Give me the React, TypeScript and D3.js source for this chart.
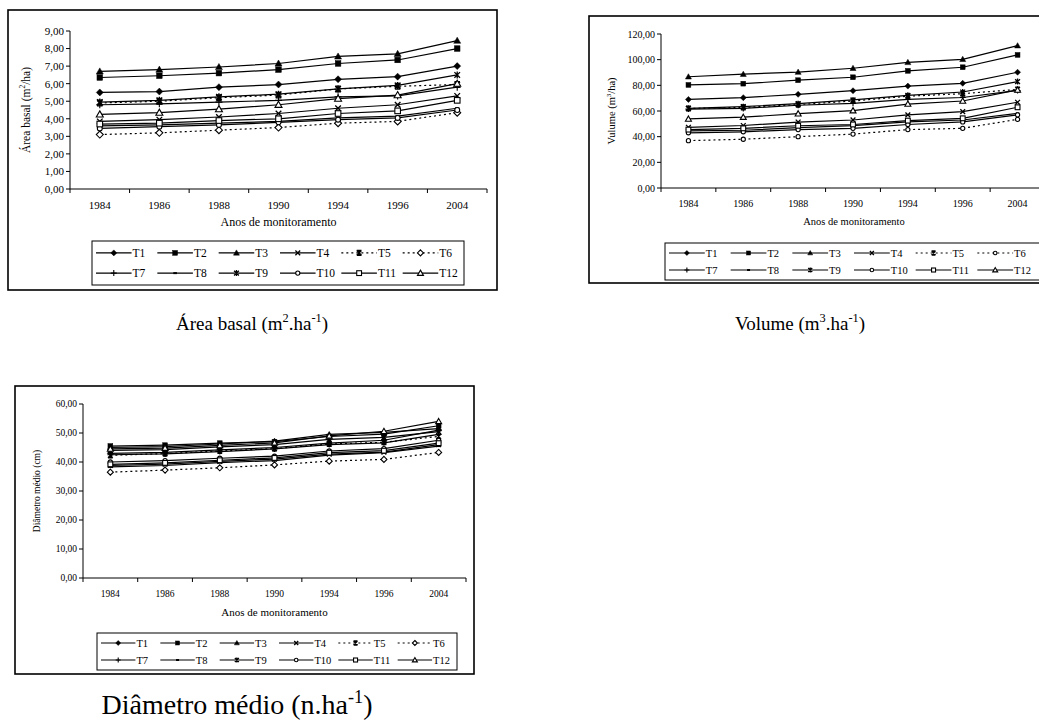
import { useEffect, useRef } from "react";
import * as d3 from "d3";

// categories
const years = ["1984", "1986", "1988", "1990", "1994", "1996", "2004"];
const seriesNames = ["T1", "T2", "T3", "T4", "T5", "T6", "T7", "T8", "T9", "T10", "T11", "T12"];
const markerTypes = ["diamond", "square", "triangle", "cross", "asteriskX", "diamondOpen", "plus", "dash", "asterisk", "circleOpen", "squareOpen", "triangleOpen"];
const dottedSeries = ["T5", "T6"];

// Área basal (m2/ha), rows T1..T12
const areaBasal = [
  [5.5, 5.55, 5.8, 5.95, 6.25, 6.4, 7.0],
  [6.35, 6.45, 6.6, 6.8, 7.15, 7.35, 8.0],
  [6.7, 6.8, 6.95, 7.15, 7.55, 7.7, 8.45],
  [3.85, 3.95, 4.1, 4.3, 4.6, 4.8, 5.3],
  [4.9, 5.0, 5.2, 5.35, 5.7, 5.85, 5.95],
  [3.1, 3.2, 3.35, 3.5, 3.75, 3.85, 4.35],
  [4.8, 4.85, 4.95, 5.05, 5.25, 5.3, 5.8],
  [3.6, 3.65, 3.75, 3.85, 4.05, 4.15, 4.6],
  [4.95, 5.05, 5.25, 5.4, 5.7, 5.9, 6.5],
  [3.45, 3.55, 3.65, 3.8, 3.95, 4.05, 4.5],
  [3.7, 3.75, 3.9, 4.0, 4.3, 4.45, 5.05],
  [4.25, 4.35, 4.55, 4.8, 5.15, 5.35, 6.0],
];

// Volume (m3/ha), rows T1..T12
const volume = [
  [69.0, 70.4, 73.0, 75.8, 79.4, 81.6, 90.2],
  [80.3, 81.3, 84.0, 86.3, 91.3, 94.1, 103.7],
  [86.7, 88.7, 90.3, 93.3, 97.9, 100.3, 110.9],
  [47.3, 48.7, 51.4, 53.0, 57.0, 59.5, 66.8],
  [62.0, 62.8, 65.0, 67.8, 71.5, 73.5, 76.8],
  [36.9, 38.0, 40.0, 42.0, 45.5, 46.5, 53.5],
  [61.5, 62.0, 64.5, 66.0, 69.0, 70.5, 76.0],
  [44.5, 45.0, 47.0, 48.6, 51.5, 53.0, 58.2],
  [62.0, 63.4, 65.7, 68.6, 72.2, 74.8, 82.9],
  [43.0, 43.8, 45.5, 46.5, 49.5, 51.5, 57.0],
  [45.5, 46.5, 48.5, 49.5, 52.5, 54.3, 62.9],
  [53.8, 55.2, 57.9, 60.3, 65.4, 67.8, 76.4],
];

// Diâmetro médio (cm), rows T1..T12
const diametro = [
  [43.0, 43.3, 44.2, 45.0, 46.5, 47.5, 51.0],
  [45.5, 45.8, 46.5, 47.0, 48.8, 49.6, 52.5],
  [45.0, 45.3, 46.2, 47.2, 49.5, 50.2, 51.5],
  [38.8, 39.3, 40.2, 41.0, 42.7, 43.4, 46.0],
  [42.3, 42.9, 43.8, 44.6, 46.2, 46.8, 48.8],
  [36.5, 37.2, 38.0, 39.0, 40.3, 40.9, 43.3],
  [42.5, 42.8, 43.6, 44.5, 46.0, 46.6, 49.5],
  [38.3, 38.8, 39.8, 40.5, 42.4, 43.2, 45.5],
  [44.0, 44.3, 45.2, 46.0, 47.8, 48.5, 50.5],
  [40.0, 40.5, 41.3, 42.0, 43.8, 44.6, 47.5],
  [39.2, 39.7, 40.6, 41.4, 43.2, 43.9, 46.5],
  [44.5, 44.8, 45.7, 46.6, 49.0, 50.6, 54.0],
];

type Part = { t: string; sup?: boolean };

interface Panel {
  values: number[][];
  yMax: number;
  yStep: number;
  frame: [number, number, number, number];
  plot: { left: number; right: number; top: number; bottom: number };
  yTitle: Part[];
  yTitleX: number;
  yTitleFont: number;
  tickFont: number;
  xTickY: number;
  xTitleY: number;
  xTitleFont: number;
  legend: [number, number, number, number];
  legendFont: number;
  markerSize: number;
  t6Marker: string;
  caption: Part[];
  captionX: number;
  captionY: number;
  captionFont: number;
}

const FONT = "'Liberation Serif', 'Times New Roman', serif";

const panels: Panel[] = [
  {
    values: areaBasal,
    yMax: 9,
    yStep: 1,
    frame: [8, 10, 489, 280],
    plot: { left: 70, right: 487, top: 31, bottom: 189 },
    yTitle: [{ t: "Área basal (m" }, { t: "2", sup: true }, { t: "/ha)" }],
    yTitleX: 30,
    yTitleFont: 11.5,
    tickFont: 11,
    xTickY: 209,
    xTitleY: 226,
    xTitleFont: 12,
    legend: [92, 241, 372, 44],
    legendFont: 11.5,
    markerSize: 7,
    t6Marker: "diamondOpen",
    caption: [{ t: "Área basal (m" }, { t: "2", sup: true }, { t: ".ha" }, { t: "-1", sup: true }, { t: ")" }],
    captionX: 252,
    captionY: 330,
    captionFont: 19,
  },
  {
    values: volume,
    yMax: 120,
    yStep: 20,
    frame: [589, 16, 470, 267],
    plot: { left: 661, right: 1045, top: 34, bottom: 188 },
    yTitle: [{ t: "Vulume (m" }, { t: "3", sup: true }, { t: "/ha)" }],
    yTitleX: 615,
    yTitleFont: 10.5,
    tickFont: 10,
    xTickY: 207,
    xTitleY: 225,
    xTitleFont: 10.5,
    legend: [665, 243, 386, 37],
    legendFont: 10.5,
    markerSize: 6,
    t6Marker: "circleOpen",
    caption: [{ t: "Volume (m" }, { t: "3", sup: true }, { t: ".ha" }, { t: "-1", sup: true }, { t: ")" }],
    captionX: 800,
    captionY: 330,
    captionFont: 19,
  },
  {
    values: diametro,
    yMax: 60,
    yStep: 10,
    frame: [15, 386, 459, 288],
    plot: { left: 83, right: 466, top: 404, bottom: 578 },
    yTitle: [{ t: "Diâmetro médio (cm)" }],
    yTitleX: 40,
    yTitleFont: 9.5,
    tickFont: 9.5,
    xTickY: 597,
    xTitleY: 616,
    xTitleFont: 11,
    legend: [97, 633, 360, 37],
    legendFont: 10.5,
    markerSize: 6,
    t6Marker: "diamondOpen",
    caption: [{ t: "Diâmetro médio (n.ha" }, { t: "-1", sup: true }, { t: ")" }],
    captionX: 237,
    captionY: 714,
    captionFont: 28,
  },
];

type G = d3.Selection<SVGGElement, unknown, null, undefined>;

function drawMarker(g: G, type: string, x: number, y: number, s: number) {
  const h = s / 2;
  const sw = 1.1;
  switch (type) {
    case "diamond":
    case "diamondOpen":
      g.append("path")
        .attr("d", `M${x},${y - h}L${x + h},${y}L${x},${y + h}L${x - h},${y}Z`)
        .attr("fill", type === "diamond" ? "#000" : "#fff")
        .attr("stroke", "#000")
        .attr("stroke-width", type === "diamond" ? 0.5 : sw);
      break;
    case "square":
    case "squareOpen":
      g.append("rect")
        .attr("x", x - h * 0.8)
        .attr("y", y - h * 0.8)
        .attr("width", h * 1.6)
        .attr("height", h * 1.6)
        .attr("fill", type === "square" ? "#000" : "#fff")
        .attr("stroke", "#000")
        .attr("stroke-width", type === "square" ? 0.5 : sw);
      break;
    case "triangle":
    case "triangleOpen":
      g.append("path")
        .attr("d", `M${x},${y - h}L${x + h},${y + h * 0.75}L${x - h},${y + h * 0.75}Z`)
        .attr("fill", type === "triangle" ? "#000" : "#fff")
        .attr("stroke", "#000")
        .attr("stroke-width", type === "triangle" ? 0.5 : sw);
      break;
    case "circleOpen":
      g.append("circle")
        .attr("cx", x)
        .attr("cy", y)
        .attr("r", h * 0.7)
        .attr("fill", "#fff")
        .attr("stroke", "#000")
        .attr("stroke-width", sw);
      break;
    case "cross":
    case "asterisk":
    case "asteriskX": {
      const d = h * 0.8;
      const p = `M${x - d},${y - d}L${x + d},${y + d}M${x - d},${y + d}L${x + d},${y - d}` +
        (type !== "cross" ? `M${x},${y - h}L${x},${y + h}` : "") +
        (type === "asteriskX" ? `M${x - d},${y - d}L${x + d},${y - d}M${x - d},${y + d}L${x + d},${y + d}` : "");
      g.append("path").attr("d", p).attr("fill", "none").attr("stroke", "#000").attr("stroke-width", sw + 0.2);
      break;
    }
    case "plus":
      g.append("path")
        .attr("d", `M${x - h},${y}L${x + h},${y}M${x},${y - h}L${x},${y + h}`)
        .attr("stroke", "#000")
        .attr("stroke-width", sw);
      break;
    case "dash":
      g.append("path")
        .attr("d", `M${x - h * 0.6},${y}L${x + h * 0.6},${y}`)
        .attr("stroke", "#000")
        .attr("stroke-width", 2);
      break;
  }
}

function richText(sel: d3.Selection<SVGTextElement, unknown, null, undefined>, parts: Part[], size: number) {
  let shifted = false;
  parts.forEach((p) => {
    const ts = sel.append("tspan").text(p.t);
    if (p.sup && !shifted) {
      ts.attr("dy", -size * 0.4).attr("font-size", size * 0.65);
      shifted = true;
    } else if (!p.sup && shifted) {
      ts.attr("dy", size * 0.4);
      shifted = false;
    } else if (p.sup) {
      ts.attr("font-size", size * 0.65);
    }
  });
}

function drawPanel(svg: d3.Selection<SVGSVGElement, unknown, null, undefined>, cfg: Panel) {
  const g = svg.append("g");
  const [fx, fy, fw, fh] = cfg.frame;

  // outer frame
  g.append("rect")
    .attr("x", fx)
    .attr("y", fy)
    .attr("width", fw)
    .attr("height", fh)
    .attr("fill", "#fff")
    .attr("stroke", "#000")
    .attr("stroke-width", 1.6);

  const x = d3.scaleBand<string>().domain(years).range([cfg.plot.left, cfg.plot.right]);
  const y = d3.scaleLinear().domain([0, cfg.yMax]).range([cfg.plot.bottom, cfg.plot.top]);
  const fmt = (v: number) => d3.format(".2f")(v).replace(".", ",");

  // y axis
  const yTicks = d3.range(0, cfg.yMax + cfg.yStep / 2, cfg.yStep);
  g.append("line")
    .attr("x1", cfg.plot.left)
    .attr("x2", cfg.plot.left)
    .attr("y1", y(cfg.yMax))
    .attr("y2", y(0))
    .attr("stroke", "#000");
  yTicks.forEach((t) => {
    g.append("line")
      .attr("x1", cfg.plot.left - 4)
      .attr("x2", cfg.plot.left)
      .attr("y1", y(t))
      .attr("y2", y(t))
      .attr("stroke", "#000");
    g.append("text")
      .attr("x", cfg.plot.left - 6)
      .attr("y", y(t))
      .attr("dy", "0.35em")
      .attr("text-anchor", "end")
      .attr("font-family", FONT)
      .attr("font-size", cfg.tickFont)
      .text(fmt(t));
  });

  // x axis
  g.append("line")
    .attr("x1", cfg.plot.left)
    .attr("x2", cfg.plot.right)
    .attr("y1", y(0))
    .attr("y2", y(0))
    .attr("stroke", "#000");
  const edges = years.map((yr) => x(yr)!).concat([cfg.plot.right]);
  edges.forEach((e) => {
    g.append("line")
      .attr("x1", e)
      .attr("x2", e)
      .attr("y1", y(0))
      .attr("y2", y(0) + 4)
      .attr("stroke", "#000");
  });
  years.forEach((yr) => {
    g.append("text")
      .attr("x", x(yr)! + x.bandwidth() / 2)
      .attr("y", cfg.xTickY)
      .attr("text-anchor", "middle")
      .attr("font-family", FONT)
      .attr("font-size", cfg.tickFont)
      .text(yr);
  });

  // axis titles
  g.append("text")
    .attr("x", (cfg.plot.left + Math.min(cfg.plot.right, 1039)) / 2 + (cfg.plot.right > 1039 ? 4 : 0))
    .attr("y", cfg.xTitleY)
    .attr("text-anchor", "middle")
    .attr("font-family", FONT)
    .attr("font-size", cfg.xTitleFont)
    .text("Anos de monitoramento");

  const yt = g.append("text")
    .attr("transform", `translate(${cfg.yTitleX},${(cfg.plot.top + cfg.plot.bottom) / 2}) rotate(-90)`)
    .attr("text-anchor", "middle")
    .attr("font-family", FONT)
    .attr("font-size", cfg.yTitleFont);
  richText(yt, cfg.yTitle, cfg.yTitleFont);

  // series lines
  const line = d3
    .line<number>()
    .x((_, i) => x(years[i])! + x.bandwidth() / 2)
    .y((d) => y(d));

  const markerFor = (i: number) => (seriesNames[i] === "T6" ? cfg.t6Marker : markerTypes[i]);

  cfg.values.forEach((vals, i) => {
    g.append("path")
      .attr("d", line(vals)!)
      .attr("fill", "none")
      .attr("stroke", "#000")
      .attr("stroke-width", 1.2)
      .attr("stroke-dasharray", dottedSeries.includes(seriesNames[i]) ? "2,3" : null);
  });
  cfg.values.forEach((vals, i) => {
    vals.forEach((v, j) => {
      drawMarker(g, markerFor(i), x(years[j])! + x.bandwidth() / 2, y(v), cfg.markerSize);
    });
  });

  // legend
  const [lx, ly, lw, lh] = cfg.legend;
  g.append("rect")
    .attr("x", lx)
    .attr("y", ly)
    .attr("width", lw)
    .attr("height", lh)
    .attr("fill", "#fff")
    .attr("stroke", "#000")
    .attr("stroke-width", 1);
  const colW = (Math.min(lx + lw, 1039) - lx - 4) / 6;
  const lineLen = colW * 0.58;
  seriesNames.forEach((name, i) => {
    const col = i % 6;
    const row = Math.floor(i / 6);
    const cx = lx + 4 + col * colW;
    const cy = ly + lh * (row === 0 ? 0.27 : 0.73);
    g.append("line")
      .attr("x1", cx)
      .attr("x2", cx + lineLen)
      .attr("y1", cy)
      .attr("y2", cy)
      .attr("stroke", "#000")
      .attr("stroke-width", 1.2)
      .attr("stroke-dasharray", dottedSeries.includes(name) ? "2,3" : null);
    drawMarker(g, markerFor(i), cx + lineLen / 2, cy, cfg.markerSize - 1);
    g.append("text")
      .attr("x", cx + lineLen + 1)
      .attr("y", cy)
      .attr("dy", "0.35em")
      .attr("font-family", FONT)
      .attr("font-size", cfg.legendFont)
      .text(name);
  });

  // caption below the panel
  const cap = g.append("text")
    .attr("x", cfg.captionX)
    .attr("y", cfg.captionY)
    .attr("text-anchor", "middle")
    .attr("font-family", FONT)
    .attr("font-size", cfg.captionFont);
  richText(cap, cfg.caption, cfg.captionFont);
}

export default function App() {
  const svgRef = useRef<SVGSVGElement>(null);

  useEffect(() => {
    if (!svgRef.current) return;
    const svg = d3.select(svgRef.current);
    svg.selectAll("*").remove();
    panels.forEach((p) => drawPanel(svg, p));
  }, []);

  return (
    <svg
      ref={svgRef}
      width={1039}
      height={722}
      style={{ position: "absolute", left: 0, top: 0, background: "#fff", overflow: "hidden" }}
    />
  );
}
